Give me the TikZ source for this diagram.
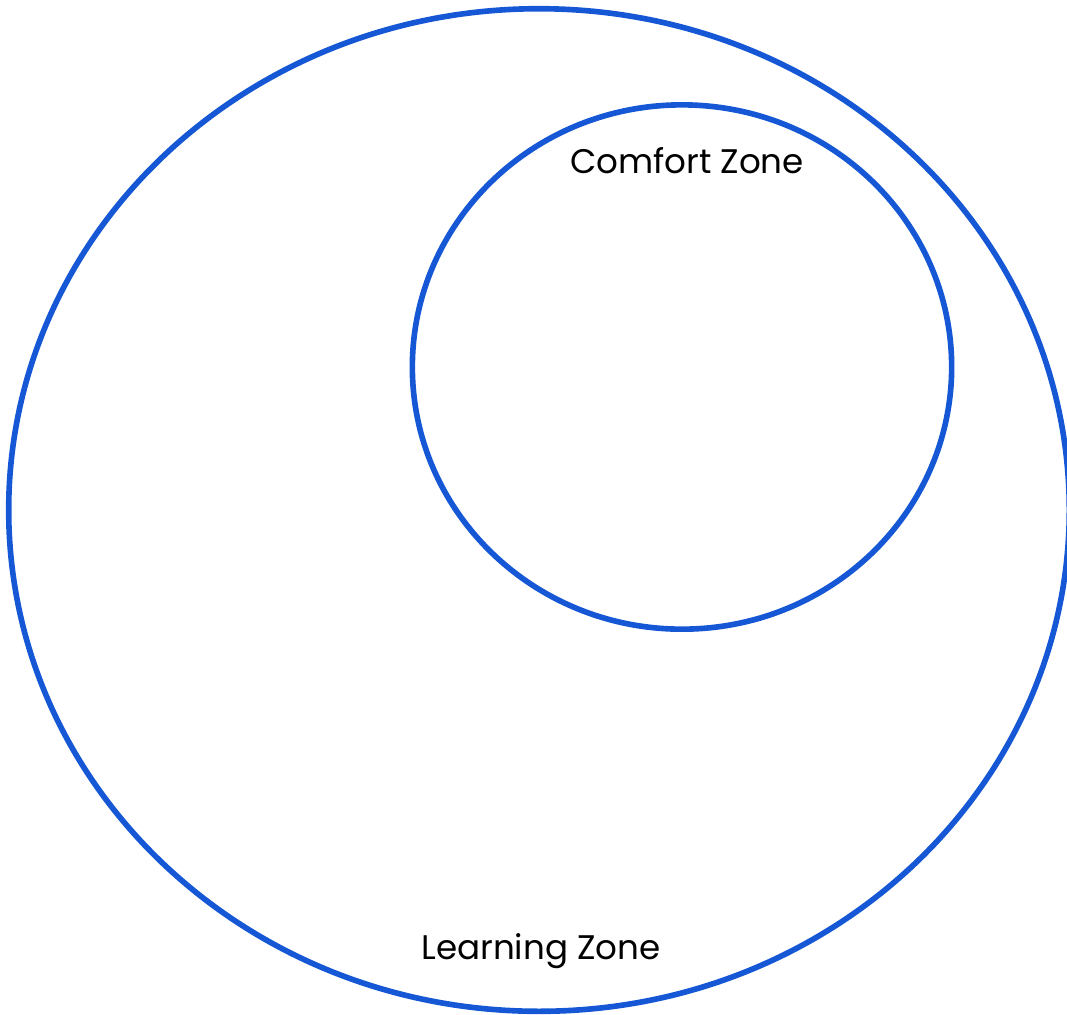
\documentclass[tikz,border=0pt]{standalone}
\usepackage{xcolor}
\usepackage{tikz}
\usepackage{fontspec}
\setmainfont{Poppins}
\usetikzlibrary{shapes.geometric, positioning}
\definecolor{zoneblue}{RGB}{21, 87, 212}

\begin{document}
\begin{tikzpicture}[x=0.01cm, y=-0.01cm,
    zone/.style={ellipse, draw=zoneblue, line width=1.6pt, inner sep=0pt},
    zonelabel/.style={font=\fontsize{9.7}{12}\selectfont, text=black}]
    \clip (0,0) rectangle (1067,1014);
    \node[zone, minimum width=10.6cm, minimum height=10.02cm] (learning) at (539,510) {};
    \node[zone, minimum width=5.39cm, minimum height=5.24cm] (comfort) at (682,367) {};
    \node[zonelabel] (comfortlabel) at (687,161) {Comfort Zone};
    \node[zonelabel] (learninglabel) at (541,951) {Learning Zone};
\end{tikzpicture}
\end{document}
